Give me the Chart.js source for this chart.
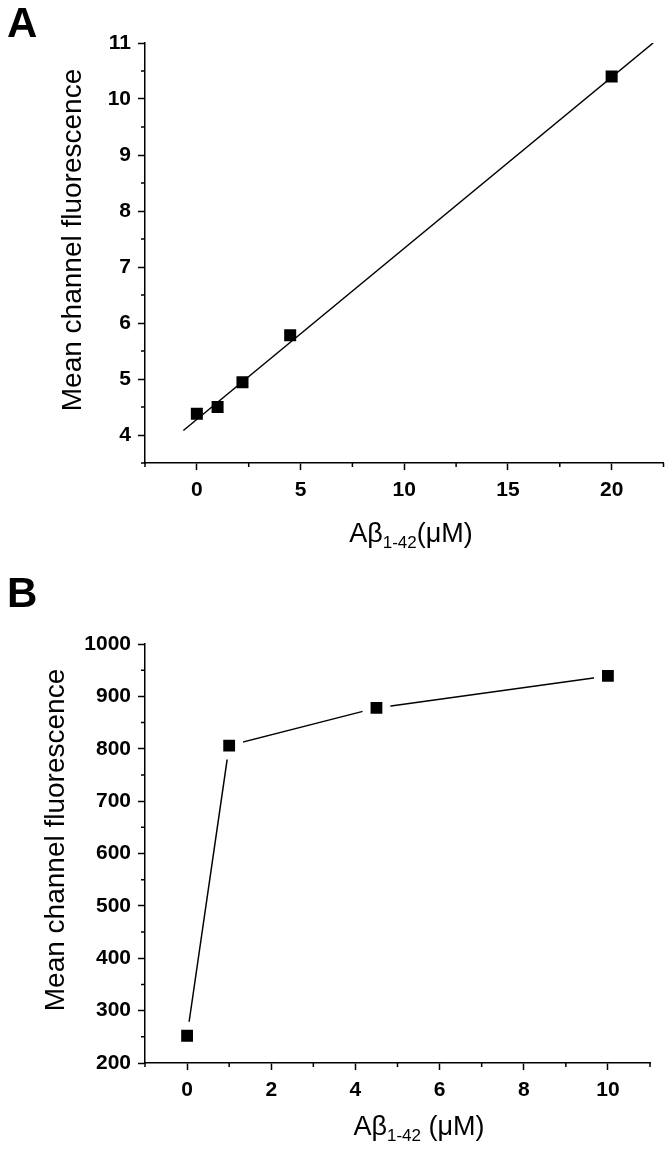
<!DOCTYPE html>
<html>
<head>
<meta charset="utf-8">
<script src="https://cdn.jsdelivr.net/npm/chart.js@4"></script>
<style>
  body { margin: 0; background: #fff; }
  .panel { position: absolute; left: 0; }
</style>
</head>
<body>
<div class="panel" style="top:0"><canvas id="chartA" width="672" height="575"></canvas></div>
<div class="panel" style="top:575px"><canvas id="chartB" width="672" height="578"></canvas></div>
<script>
// panel A: dose vs mean channel fluorescence, with a fitted line
const aX = [0, 1, 2.2, 4.5, 20];
const aY = [4.38, 4.5, 4.94, 5.78, 10.4];
const fitX = [-0.65, 22];
const fitY = [4.08, 11];
const aXTicks = [0, 5, 10, 15, 20];
const aYTicks = [4, 5, 6, 7, 8, 9, 10, 11];
const aXMinor = [-2.5, 2.5, 7.5, 12.5, 17.5, 22.5];
const aYMinor = [3.5, 4.5, 5.5, 6.5, 7.5, 8.5, 9.5, 10.5];

// panel B
const bX = [0, 1, 4.5, 10];
const bY = [252, 806, 878, 939];
const bXTicks = [0, 2, 4, 6, 8, 10];
const bYTicks = [200, 300, 400, 500, 600, 700, 800, 900, 1000];
const bXMinor = [-1, 1, 3, 5, 7, 9, 11];
const bYMinor = [250, 350, 450, 550, 650, 750, 850, 950];

const FONT = '"Liberation Sans", Arial, sans-serif';

const toPts = (xs, ys) => xs.map((x, i) => ({ x: x, y: ys[i] }));

// short minor tick marks, drawn through the scales
const minorTicks = {
  id: 'minorTicks',
  afterDraw(chart, args, opts) {
    const ctx = chart.ctx;
    const xs = chart.scales.x, ys = chart.scales.y;
    ctx.save();
    ctx.strokeStyle = '#000';
    ctx.lineWidth = 1.5;
    ctx.beginPath();
    opts.x.forEach(v => {
      const px = xs.getPixelForValue(v);
      ctx.moveTo(px, xs.top);
      ctx.lineTo(px, xs.top + 4);
    });
    opts.y.forEach(v => {
      const py = ys.getPixelForValue(v);
      ctx.moveTo(ys.right, py);
      ctx.lineTo(ys.right - 4, py);
    });
    ctx.stroke();
    ctx.restore();
  }
};

// panel letter, axis titles (x title has a subscript)
const panelText = {
  id: 'panelText',
  afterDraw(chart, args, o) {
    const ctx = chart.ctx;
    ctx.save();
    ctx.fillStyle = '#000';
    ctx.textAlign = 'left';
    ctx.textBaseline = 'alphabetic';
    ctx.font = 'bold 42px ' + FONT;
    ctx.fillText(o.letter, 7, o.letterY);

    ctx.save();
    ctx.translate(o.yTitleX, o.yTitleY);
    ctx.rotate(-Math.PI / 2);
    ctx.textAlign = 'center';
    ctx.font = '28px ' + FONT;
    ctx.fillText('Mean channel fluorescence', 0, 0);
    ctx.restore();

    const main = '27px ' + FONT, sub = '17px ' + FONT;
    ctx.font = main; const w1 = ctx.measureText('Aβ').width;
    ctx.font = sub; const w2 = ctx.measureText('1-42').width;
    ctx.font = main; const w3 = ctx.measureText(o.tail).width;
    let x = o.xTitleX - (w1 + w2 + w3) / 2;
    ctx.font = main; ctx.fillText('Aβ', x, o.xTitleY); x += w1;
    ctx.font = sub; ctx.fillText('1-42', x, o.xTitleY + 6); x += w2;
    ctx.font = main; ctx.fillText(o.tail, x, o.xTitleY);
    ctx.restore();
  }
};

function axis(min, max, tickList, size) {
  return {
    type: 'linear',
    min: min,
    max: max,
    afterBuildTicks: s => { s.ticks = tickList.map(v => ({ value: v })); },
    afterFit: size,
    grid: { drawOnChartArea: false, tickLength: 7, tickColor: '#000', tickWidth: 1.5 },
    border: { color: '#000', width: 1.5 },
    ticks: {
      color: '#000', autoSkip: false, maxRotation: 0,
      callback: v => String(v),
      font: { family: FONT, size: 21, weight: 'bold' }
    }
  };
}

const xA = axis(-2.5, 22.5, aXTicks, s => { s.height = 112; });
xA.ticks.padding = 8;
const yA = axis(3.5, 11, aYTicks, s => { s.width = 145; });
yA.ticks.padding = 7;

new Chart(document.getElementById('chartA'), {
  type: 'scatter',
  data: {
    datasets: [
      {
        data: toPts(fitX, fitY), showLine: true,
        borderColor: '#000', borderWidth: 1.5, pointRadius: 0
      },
      {
        data: toPts(aX, aY), showLine: false,
        pointStyle: 'rect', pointRadius: 8.5,
        backgroundColor: '#000', borderWidth: 0
      }
    ]
  },
  options: {
    responsive: false, animation: false,
    layout: { padding: { top: 43, right: 8, left: 0, bottom: 0 } },
    plugins: {
      legend: { display: false }, tooltip: { enabled: false },
      minorTicks: { x: aXMinor, y: aYMinor },
      panelText: { letter: 'A', letterY: 37, yTitleX: 81, yTitleY: 240, xTitleX: 411, xTitleY: 542, tail: '(μM)' }
    },
    scales: { x: xA, y: yA }
  },
  plugins: [minorTicks, panelText]
});

const xB = axis(-1, 11, bXTicks, s => { s.height = 90; });
xB.ticks.padding = 8;
const yB = axis(200, 1000, bYTicks, s => { s.width = 145; });
yB.ticks.padding = 7;

new Chart(document.getElementById('chartB'), {
  type: 'scatter',
  data: {
    datasets: [{
      data: toPts(bX, bY), showLine: true,
      borderColor: '#000', borderWidth: 1.5,
      pointStyle: 'rect', pointRadius: 14,
      pointBackgroundColor: '#000', pointBorderColor: '#fff', pointBorderWidth: 8
    }]
  },
  options: {
    responsive: false, animation: false,
    layout: { padding: { top: 69, right: 7, left: 0, bottom: 0 } },
    plugins: {
      legend: { display: false }, tooltip: { enabled: false },
      minorTicks: { x: bXMinor, y: bYMinor },
      panelText: { letter: 'B', letterY: 32, yTitleX: 64, yTitleY: 265, xTitleX: 419, xTitleY: 560, tail: ' (μM)' }
    },
    scales: { x: xB, y: yB }
  },
  plugins: [minorTicks, panelText]
});
</script>
</body>
</html>
